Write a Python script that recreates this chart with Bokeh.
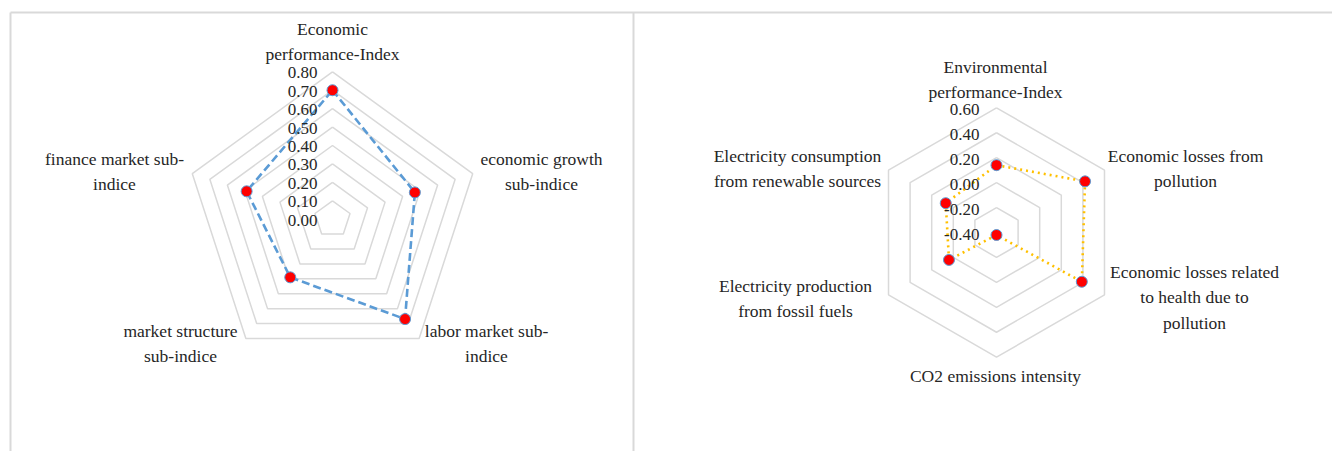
import numpy as np
from bokeh.plotting import figure
from bokeh.models import Range1d
from bokeh.core.properties import value
from bokeh.embed import file_html
from bokeh.resources import INLINE

# ---------------- data ----------------
econ_categories = ["Economic\nperformance-Index", "economic growth\nsub-indice",
                   "labor market sub-\nindice", "market structure\nsub-indice",
                   "finance market sub-\nindice"]
econ_values = [0.70, 0.47, 0.67, 0.39, 0.49]
econ_ticks = [0.00, 0.10, 0.20, 0.30, 0.40, 0.50, 0.60, 0.70, 0.80]
econ_tick_labels = ["0.00", "0.10", "0.20", "0.30", "0.40", "0.50", "0.60", "0.70", "0.80"]

env_categories = ["Environmental\nperformance-Index", "Economic losses from\npollution",
                  "Economic losses related\nto health due to\npollution", "CO2 emissions intensity",
                  "Electricity production\nfrom fossil fuels",
                  "Electricity consumption\nfrom renewable sources"]
env_values = [0.14, 0.42, 0.39, -0.38, 0.04, 0.07]
env_ticks = [-0.40, -0.20, 0.00, 0.20, 0.40, 0.60]
env_tick_labels = ["-0.40", "-0.20", "0.00", "0.20", "0.40", "0.60"]

# ---------------- layout ----------------
W, H = 1332, 451
p = figure(width=W, height=H, output_backend="svg", toolbar_location=None,
           x_range=Range1d(0, W), y_range=Range1d(H, 0),
           min_border=0, outline_line_color=None)
p.axis.visible = False
p.grid.visible = False

FONT = value("Liberation Serif")
TXT = "#262626"
GRID = "#d9d9d9"

# panel borders
p.multi_line(xs=[[10, 10], [10, 1340], [633, 633]], ys=[[459, 12], [12, 12], [12, 459]],
             line_color=GRID, line_width=2)


def radar(cx, cy, R, vmin, vmax, values, cats, ticks, tick_labels, grid_levels,
          label_pos, tick_x, line_color, line_dash, tick_dy):
    n = len(values)
    th = np.arange(n) * 2 * np.pi / n
    sx, sy = np.sin(th), -np.cos(th)

    def rad(v):
        return (np.asarray(v) - vmin) / (vmax - vmin) * R

    # grid polygons
    xs, ys = [], []
    for g in grid_levels:
        r = rad(g)
        xs.append(list(cx + r * sx) + [cx + r * sx[0]])
        ys.append(list(cy + r * sy) + [cy + r * sy[0]])
    p.multi_line(xs=xs, ys=ys, line_color=GRID, line_width=1.5)

    # series
    r = rad(values)
    px = cx + r * sx
    py = cy + r * sy
    p.line(x=list(px) + [px[0]], y=list(py) + [py[0]], line_color=line_color,
           line_width=2.6, line_dash=line_dash)
    p.scatter(x=px, y=py, size=11, fill_color="#ff0000", line_color="#5b9bd5", line_width=1)

    # tick labels
    tr = rad(ticks)
    p.text(x=[tick_x] * len(ticks), y=list(cy - tr + tick_dy), text=tick_labels,
           text_font=FONT, text_font_size="17px", text_color=TXT,
           text_align="right", text_baseline="middle")

    # category labels
    lx = [a for a, b in label_pos]
    ly = [b for a, b in label_pos]
    p.text(x=lx, y=ly, text=cats, text_font=FONT, text_font_size="17.5px",
           text_color=TXT, text_align="center", text_baseline="middle",
           text_line_height=1.26)


# left radar
radar(332, 218.7, 147.4, 0.0, 0.8, econ_values, econ_categories, econ_ticks, econ_tick_labels,
      econ_ticks[1:],
      [(332, 41), (541, 171), (486, 343), (180, 343), (114, 171)],
      317, "#5b9bd5", "8 4", 1)

# right radar
radar(996, 232, 124.7, -0.4, 0.6, env_values, env_categories, env_ticks, env_tick_labels,
      env_ticks[1:],
      [(995, 79), (1185, 168), (1194, 297), (995, 375), (795, 298), (797, 168)],
      979, "#ffc000", "2 4", 2)

open("out.html", "w").write(file_html(p, INLINE))
